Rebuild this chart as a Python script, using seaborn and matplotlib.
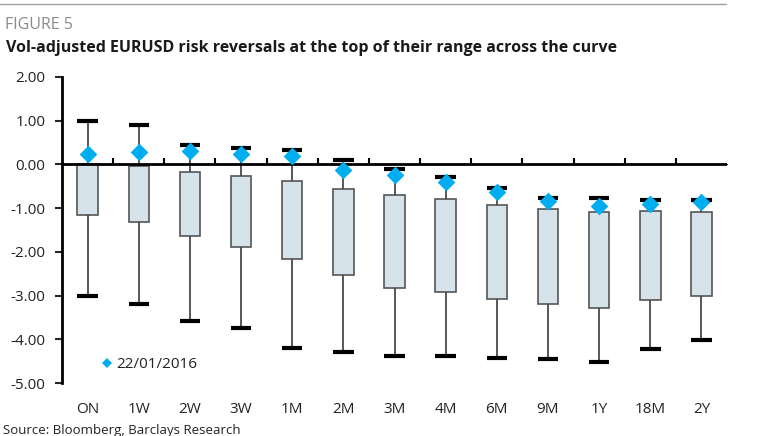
import numpy as np
import pandas as pd
import matplotlib
matplotlib.use('Agg')
import matplotlib.pyplot as plt
from matplotlib.lines import Line2D
import seaborn as sns

# Vol-adjusted EURUSD 25d risk reversals by tenor
tenors = ['ON', '1W', '2W', '3W', '1M', '2M', '3M', '4M', '6M', '9M', '1Y', '18M', '2Y']
range_max = [1.00, 0.90, 0.44, 0.37, 0.33, 0.11, -0.11, -0.29, -0.54, -0.76, -0.76, -0.81, -0.81]
box_top = [0.00, -0.03, -0.18, -0.27, -0.37, -0.56, -0.70, -0.79, -0.93, -1.01, -1.08, -1.07, -1.08]
box_bottom = [-1.16, -1.31, -1.63, -1.90, -2.17, -2.54, -2.83, -2.91, -3.07, -3.19, -3.28, -3.09, -3.00]
range_min = [-3.00, -3.20, -3.58, -3.75, -4.19, -4.30, -4.39, -4.39, -4.42, -4.45, -4.51, -4.23, -4.02]
current = [0.24, 0.29, 0.31, 0.24, 0.19, -0.13, -0.25, -0.41, -0.62, -0.84, -0.96, -0.90, -0.87]
current_label = '22/01/2016'

# five points per tenor so that quartiles = box edges and 0/100 pct = range ends
rows = []
for t, lo, b, tp, hi in zip(tenors, range_min, box_bottom, box_top, range_max):
    for v in [lo, b, b, tp, hi]:
        rows.append({'tenor': t, 'value': v})
df = pd.DataFrame(rows)
cur = pd.DataFrame({'tenor': tenors, 'value': current})

sns.set_style('white')
plt.rcParams['font.family'] = ['Open Sans', 'DejaVu Sans']

fig = plt.figure(figsize=(7.78, 4.36), dpi=100)
ax = fig.add_axes([62 / 778, 1 - 383 / 436, 665 / 778, 306 / 436])

sns.boxplot(data=df, x='tenor', y='value', order=tenors, ax=ax,
            whis=(0, 100), width=0.4, color='#d6e3ea', saturation=1,
            linecolor='#555555', linewidth=1.2, showfliers=False,
            medianprops={'visible': False},
            whiskerprops={'color': '#4a4a4a', 'linewidth': 1.3},
            capprops={'color': 'black', 'linewidth': 3.0, 'solid_capstyle': 'butt'},
            capwidths=0.4)

ax.axhline(0, color='black', linewidth=2, zorder=3)

sns.stripplot(data=cur, x='tenor', y='value', order=tenors, ax=ax,
              jitter=False, marker='D', size=9, color='#00aeef',
              linewidth=0, zorder=5)

ax.set_ylim(-5, 2)
ax.set_xlim(-0.5, len(tenors) - 0.5)
yt = np.arange(-5, 2.01, 1)
ax.set_yticks(yt, [f'{v:.2f}' for v in yt])
ax.set_xlabel('')
ax.set_ylabel('')

for s in ['top', 'right', 'bottom']:
    ax.spines[s].set_visible(False)
ax.spines['left'].set_linewidth(2)
ax.spines['left'].set_color('black')
ax.tick_params(axis='y', direction='out', length=5, width=1.5, pad=7,
               labelsize=11, labelcolor='#222222', left=True)
ax.tick_params(axis='x', length=0, pad=14, labelsize=11, labelcolor='#222222')

# small ticks between categories on the zero line
zero_pos = (0 - (-5)) / (2 - (-5))
sec = ax.secondary_xaxis(zero_pos)
sec.set_xticks(np.arange(0.5, len(tenors) - 1, 1), labels=[])
sec.tick_params(direction='out', length=4, width=1.5, color='black')
sec.spines['bottom'].set_visible(False)

# legend: one entry for the diamonds
handle = Line2D([], [], marker='D', linestyle='none', markersize=5,
                markerfacecolor='#00aeef', markeredgewidth=0)
ax.legend([handle], [current_label], loc='center left',
          bbox_to_anchor=(0.045, 0.06), frameon=False,
          handletextpad=0.1, handlelength=1.0, borderpad=0,
          fontsize=11, labelcolor='#222222')

fig.add_artist(Line2D([0, 726 / 778], [1 - 4 / 436, 1 - 4 / 436],
                      color='#a0a0a0', linewidth=1))
fig.text(5 / 778, 1 - 29 / 436, 'FIGURE 5', fontsize=11.5, color='#8a8a8a',
         va='baseline')
fig.text(6 / 778, 1 - 52 / 436,
         'Vol-adjusted EURUSD risk reversals at the top of their range across the curve',
         fontsize=11.5, fontweight='bold', color='#1a1a1a', va='baseline')
fig.text(3 / 778, 1 - 434 / 436, 'Source: Bloomberg, Barclays Research',
         fontsize=9.5, color='#222222', va='baseline')

fig.savefig('out.png', dpi=100)
